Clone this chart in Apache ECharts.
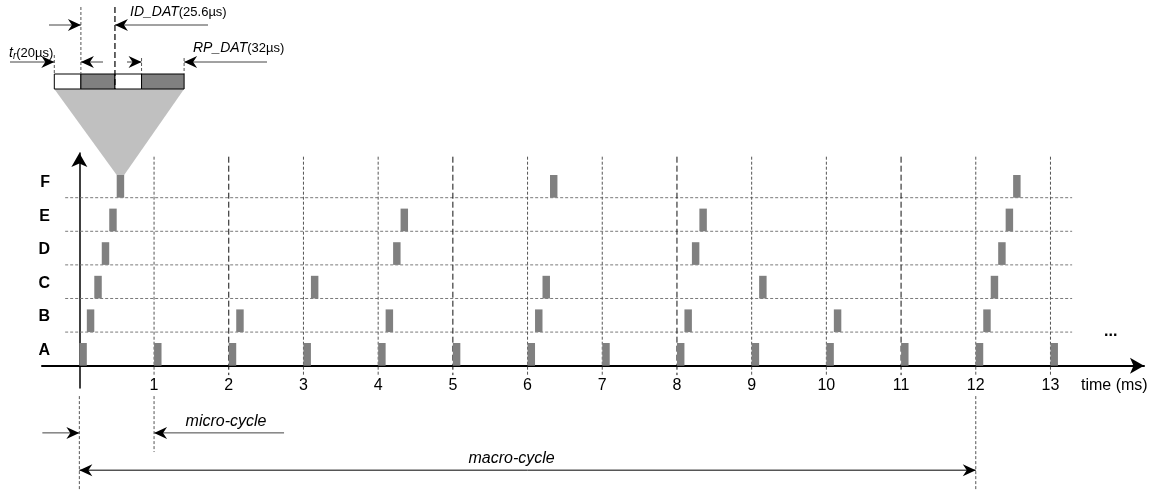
<!DOCTYPE html>
<html>
<head>
<meta charset="utf-8">
<script src="https://cdn.jsdelivr.net/npm/echarts@6/dist/echarts.min.js"></script>
<style>
  html, body { margin: 0; padding: 0; background: #fff; }
  #chart { width: 1151px; height: 490px; }
</style>
</head>
<body>
<div id="chart"></div>
<script>
// rows of the schedule (bottom to top)
const rows = ['A', 'B', 'C', 'D', 'E', 'F'];
// time ticks in ms
const ticks = [1, 2, 3, 4, 5, 6, 7, 8, 9, 10, 11, 12, 13];
// start time (ms) of each slot, per node
const startsA = [0, 1, 2, 3, 4, 5, 6, 7, 8, 9, 10, 11, 12, 13];
const startsB = [0.1, 2.1, 4.1, 6.1, 8.1, 10.1, 12.1];
const startsC = [0.2, 3.1, 6.2, 9.1, 12.2];
const startsD = [0.3, 4.2, 8.2, 12.3];
const startsE = [0.4, 4.3, 8.3, 12.4];
const startsF = [0.5, 6.3, 12.5];
const slotLen = 0.1;
// zoomed slot: t_r, ID_DAT, t_r, RP_DAT (µs)
const slotParts = [20, 25.6, 20, 32];
// micro / macro cycle (ms)
const microCycle = [0, 1];
const macroCycle = [0, 12];
const darkLines = [2, 5, 8, 11];

const FONT = 'Arial, "Liberation Sans", sans-serif';
const GREY = '#808080';
const barH = 0.675;

let chart = echarts.init(document.getElementById('chart'));

const barData = [];
[startsA, startsB, startsC, startsD, startsE, startsF].forEach((arr, r) => {
  arr.forEach(s => barData.push([s, r]));
});

function arrowHead(x, y, dir) {
  const L = 13, W = 6, N = 4;
  let pts;
  if (dir === 'right') pts = [[x, y], [x - L, y - W], [x - L + N, y], [x - L, y + W]];
  else pts = [[x, y], [x + L, y - W], [x + L - N, y], [x + L, y + W]];
  return { type: 'polygon', shape: { points: pts }, style: { fill: '#000' } };
}
function seg(x1, y1, x2, y2, stroke, width, dash) {
  return {
    type: 'line', shape: { x1, y1, x2, y2 },
    style: { stroke: stroke || '#000', lineWidth: width || 1, lineDash: dash || null }
  };
}

chart.setOption({
  animation: false,
  grid: { left: 42, right: 7, top: 153, bottom: 102 },
  xAxis: {
    type: 'value', min: -0.5, max: 14.252,
    axisLine: { onZero: true, symbol: ['none', 'arrow'], symbolSize: [12, 14], lineStyle: { color: '#000', width: 2 } },
    axisTick: { show: false },
    splitLine: { show: false },
    axisLabel: { customValues: ticks, color: '#000', fontSize: 16, fontFamily: FONT, margin: -10 }
  },
  yAxis: {
    type: 'value', min: -0.664, max: 6.33,
    axisLine: { onZero: true, symbol: ['none', 'arrow'], symbolSize: [12, 14], lineStyle: { color: '#000', width: 1.5 } },
    axisTick: { show: false },
    splitLine: { show: false },
    axisLabel: {
      customValues: rows.map((r, i) => i + 0.45),
      formatter: v => rows[Math.round(v - 0.45)],
      color: '#000', fontSize: 16, fontWeight: 'bold', fontFamily: FONT, margin: -8
    }
  },
  series: [
    {
      // grid lines of the diagram
      type: 'custom', clip: false, silent: true,
      data: [0],
      renderItem: (params, api) => {
        const kids = [];
        for (let r = 1; r < rows.length; r++) {
          const a = api.coord([-0.19, r]), b = api.coord([13.29, r]);
          kids.push(seg(a[0], a[1], b[0], b[1], '#7a7a7a', 1, [3, 2]));
        }
        ticks.forEach(t => {
          const dark = darkLines.includes(t);
          const a = api.coord([t, 6.22]), b = api.coord([t, -0.28]);
          kids.push(seg(a[0], a[1], b[0], b[1], dark ? '#111' : '#555', 1, dark ? [6, 3] : [3, 2]));
        });
        return { type: 'group', children: kids };
      }
    },
    {
      // zoomed view of one slot
      type: 'custom', clip: false, silent: true,
      data: [0],
      renderItem: (params, api) => {
        const kids = [];
        const sc = 1.33, y0 = 74, y1 = 89;
        const bx = [54.3];
        slotParts.forEach(p => bx.push(bx[bx.length - 1] + p * sc));
        const pa = api.coord([startsF[0], 5 + barH]);
        const pb = api.coord([startsF[0] + slotLen, 5 + barH]);
        kids.push({ type: 'polygon', shape: { points: [[bx[0], y1], [bx[4], y1], [pb[0], pb[1]], [pa[0], pa[1]]] }, style: { fill: '#c0c0c0' } });
        for (let i = 0; i < 4; i++) {
          kids.push({ type: 'rect', shape: { x: bx[i], y: y0, width: bx[i + 1] - bx[i], height: y1 - y0 },
            style: { fill: i % 2 ? GREY : '#fff', stroke: '#000', lineWidth: 1 } });
        }
        kids.push(seg(bx[0], 55, bx[0], y0, '#555', 1, [3, 2]));
        kids.push(seg(bx[1], 7, bx[1], y0, '#555', 1, [3, 2]));
        kids.push(seg(bx[2], 7, bx[2], y1, '#000', 1.2, [6, 3]));
        kids.push(seg(bx[3], 58, bx[3], y0, '#555', 1, [3, 2]));
        kids.push(seg(bx[4], 58, bx[4], y0, '#555', 1, [3, 2]));
        // ID_DAT
        kids.push(seg(49, 25, bx[1], 25, '#444'), arrowHead(bx[1], 25, 'right'));
        kids.push(seg(bx[2], 25, 208, 25, '#444'), arrowHead(bx[2], 25, 'left'));
        // t_r
        kids.push(seg(10, 62, bx[0], 62, '#444'), arrowHead(bx[0], 62, 'right'));
        kids.push(seg(bx[1], 62, 103, 62, '#444'), arrowHead(bx[1], 62, 'left'));
        // RP_DAT
        kids.push(seg(127, 62, bx[3], 62, '#444'), arrowHead(bx[3], 62, 'right'));
        kids.push(seg(bx[4], 62, 267, 62, '#444'), arrowHead(bx[4], 62, 'left'));
        const rich = {
          i: { fontStyle: 'italic', fontSize: 14, fontFamily: FONT, fill: '#000' },
          s: { fontStyle: 'italic', fontSize: 10, fontFamily: FONT, fill: '#000', padding: [7, 0, 0, 0] },
          n: { fontSize: 13, fontFamily: FONT, fill: '#000' }
        };
        kids.push({ type: 'text', style: { x: 9, y: 53, text: '{i|t}{s|r}{n|(20µs)}', rich, verticalAlign: 'middle' } });
        kids.push({ type: 'text', style: { x: 130, y: 12, text: '{i|ID_DAT}{n|(25.6µs)}', rich, verticalAlign: 'middle' } });
        kids.push({ type: 'text', style: { x: 193, y: 48, text: '{i|RP_DAT}{n|(32µs)}', rich, verticalAlign: 'middle' } });
        return { type: 'group', children: kids };
      }
    },
    {
      // transmission slots
      type: 'custom', clip: false, silent: true,
      data: barData,
      renderItem: (params, api) => {
        const p0 = api.coord([api.value(0), api.value(1) + barH]);
        const p1 = api.coord([api.value(0) + slotLen, api.value(1)]);
        return { type: 'rect', shape: { x: p0[0], y: p0[1], width: p1[0] - p0[0], height: p1[1] - p0[1] }, style: { fill: GREY } };
      }
    },
    {
      // micro / macro cycle annotations
      type: 'custom', clip: false, silent: true,
      data: [0],
      renderItem: (params, api) => {
        const kids = [];
        const m0 = api.coord([microCycle[0], -2]), m1 = api.coord([microCycle[1], -2]);
        kids.push(seg(m0[0] - 37, m0[1], m0[0], m0[1], '#444'), arrowHead(m0[0], m0[1], 'right'));
        kids.push(seg(m1[0], m1[1], m1[0] + 130, m1[1], '#444'), arrowHead(m1[0], m1[1], 'left'));
        kids.push({ type: 'text', style: { x: m1[0] + 72, y: m1[1] - 11, text: 'micro-cycle', fontStyle: 'italic', fontSize: 16, fontFamily: FONT, fill: '#000', align: 'center', verticalAlign: 'middle' } });
        const M0 = api.coord([macroCycle[0], -3.11]), M1 = api.coord([macroCycle[1], -3.11]);
        kids.push(seg(M0[0], M0[1], M1[0], M1[1], '#000'));
        kids.push(arrowHead(M0[0], M0[1], 'left'), arrowHead(M1[0], M1[1], 'right'));
        kids.push({ type: 'text', style: { x: (M0[0] + M1[0]) / 2 - 16, y: M0[1] - 12, text: 'macro-cycle', fontStyle: 'italic', fontSize: 16, fontFamily: FONT, fill: '#000', align: 'center', verticalAlign: 'middle' } });
        // extension lines below the axis
        [[macroCycle[0], -3.7], [microCycle[1], -2.57], [macroCycle[1], -3.7]].forEach(([x, yb]) => {
          const a = api.coord([x, -0.905]), b = api.coord([x, yb]);
          kids.push(seg(a[0], a[1], b[0], b[1], '#555', 1, [3, 2]));
        });
        return { type: 'group', children: kids };
      }
    }
  ],
  graphic: [
    { type: 'text', left: 1081, top: 378, style: { text: 'time (ms)', fontSize: 16, fontFamily: FONT, fill: '#000' } },
    { type: 'text', left: 1104, top: 324, style: { text: '...', fontSize: 16, fontWeight: 'bold', fontFamily: FONT, fill: '#000' } }
  ]
});
</script>
</body>
</html>
